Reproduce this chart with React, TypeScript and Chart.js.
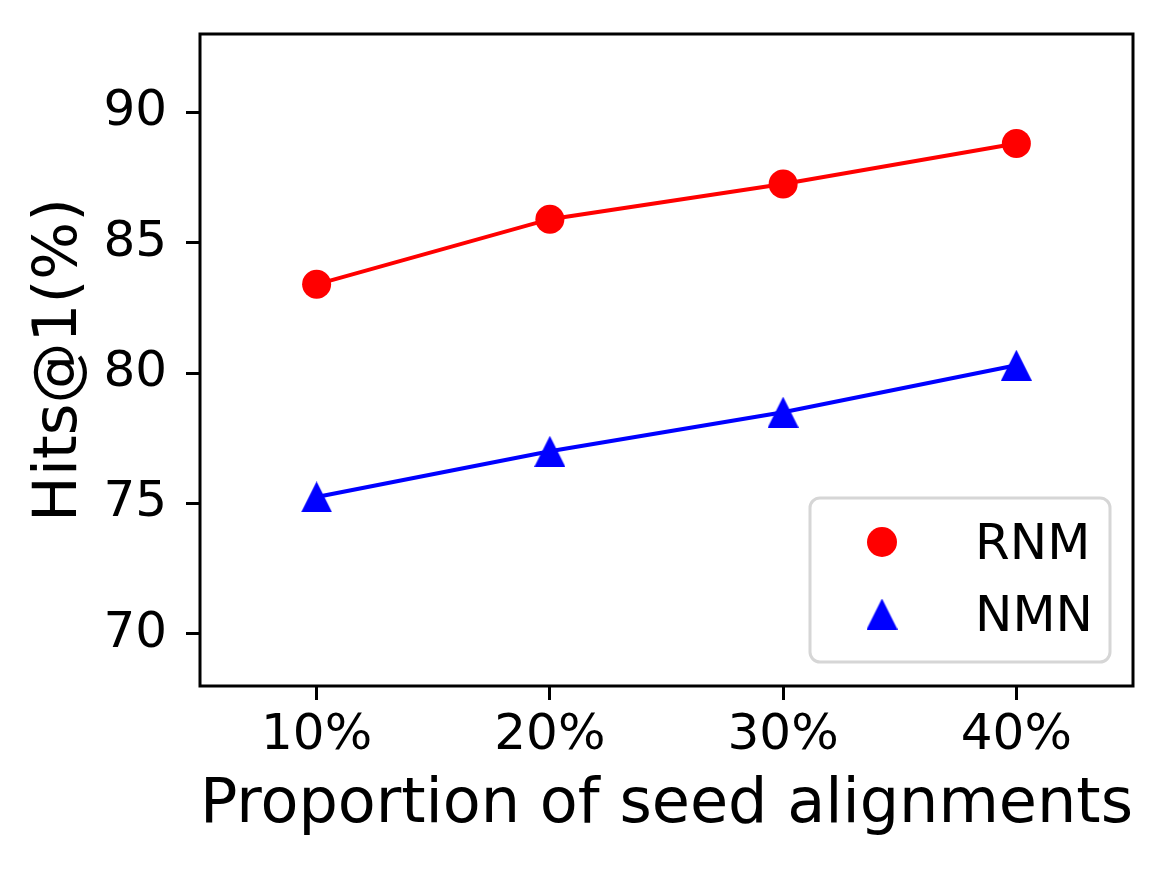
import { useEffect, useRef } from 'react';
import { Chart, ChartConfiguration, Plugin, registerables } from 'chart.js';

Chart.register(...registerables);

// values
const proportions = [10, 20, 30, 40];
const rnmHits = [83.4, 85.9, 87.25, 88.8];
const nmnHits = [75.25, 77.0, 78.5, 80.3];
const yTicks = [70, 75, 80, 85, 90];
const seriesNames = ['RNM', 'NMN'];

const FONT = "'DejaVu Sans', 'Liberation Sans', sans-serif";

// matplotlib-like '^' marker (width == height)
function makeTriangle(size: number, color: string) {
  const c = document.createElement('canvas');
  c.width = size;
  c.height = size;
  const g = c.getContext('2d');
  if (g) {
    g.fillStyle = color;
    g.beginPath();
    g.moveTo(size / 2, 0);
    g.lineTo(size, size);
    g.lineTo(0, size);
    g.closePath();
    g.fill();
  }
  return c;
}

const frameAndLegend: Plugin = {
  id: 'frameAndLegend',
  afterDraw(chart) {
    const { ctx, chartArea } = chart;
    const { left, right, top, bottom } = chartArea;
    ctx.save();

    // axes box
    ctx.strokeStyle = '#000';
    ctx.lineWidth = 3;
    ctx.strokeRect(left, top, right - left, bottom - top);

    // legend (markers only), lower right
    const w = 300;
    const h = 164;
    const x0 = right - 23 - w;
    const y0 = bottom - 24 - h;
    ctx.beginPath();
    ctx.roundRect(x0, y0, w, h, 10);
    ctx.fillStyle = 'rgba(255,255,255,0.8)';
    ctx.fill();
    ctx.strokeStyle = '#d6d6d6';
    ctx.lineWidth = 3;
    ctx.stroke();

    ctx.font = `50px ${FONT}`;
    ctx.textAlign = 'left';
    ctx.textBaseline = 'alphabetic';
    chart.data.datasets.forEach((ds: any, i: number) => {
      const cy = y0 + 44 + i * 72;
      const mx = x0 + 72;
      if (ds.pointStyle instanceof HTMLCanvasElement) {
        const img = ds.pointStyle as HTMLCanvasElement;
        ctx.drawImage(img, mx - img.width / 2, cy - img.height / 2);
      } else {
        ctx.beginPath();
        ctx.arc(mx, cy, 15, 0, Math.PI * 2);
        ctx.fillStyle = ds.pointBackgroundColor;
        ctx.fill();
      }
      ctx.fillStyle = '#000';
      ctx.fillText(String(ds.label), x0 + 165, cy + 17);
    });
    ctx.restore();
  },
};

export default function App() {
  const chartRef = useRef<HTMLCanvasElement>(null);
  const chartInstance = useRef<Chart | null>(null);

  useEffect(() => {
    if (!chartRef.current) return;
    if (chartInstance.current) {
      chartInstance.current.destroy();
    }
    const ctx = chartRef.current.getContext('2d');
    if (!ctx) return;

    const triangle = makeTriangle(31, '#0000ff');

    const config: ChartConfiguration<'line'> = {
      type: 'line',
      data: {
        datasets: [
          {
            label: seriesNames[0],
            data: proportions.map((p, i) => ({ x: p, y: rnmHits[i] })),
            borderColor: '#ff0000',
            borderWidth: 4,
            pointStyle: 'circle',
            pointRadius: 14.5,
            pointBorderWidth: 0,
            pointBackgroundColor: '#ff0000',
            tension: 0,
          },
          {
            label: seriesNames[1],
            data: proportions.map((p, i) => ({ x: p, y: nmnHits[i] })),
            borderColor: '#0000ff',
            borderWidth: 4,
            pointStyle: triangle,
            pointRadius: 15,
            pointBorderWidth: 0,
            pointBackgroundColor: '#0000ff',
            tension: 0,
          },
        ],
      },
      options: {
        responsive: false,
        animation: false,
        layout: { padding: { top: 34, right: 34, left: 0, bottom: 0 } },
        plugins: {
          legend: { display: false },
          tooltip: { enabled: false },
        },
        scales: {
          x: {
            type: 'linear',
            min: 5,
            max: 45,
            afterBuildTicks: (axis) => {
              axis.ticks = proportions.map((v) => ({ value: v }));
            },
            afterFit: (axis: any) => {
              axis.height = 184;
              axis.paddingLeft = 0;
              axis.paddingRight = 0;
            },
            border: { display: false },
            grid: {
              drawOnChartArea: false,
              drawTicks: true,
              tickLength: 14,
              tickWidth: 3,
              tickColor: '#000',
            },
            ticks: {
              color: '#000',
              padding: 11,
              font: { family: FONT, size: 50, lineHeight: 1 },
              callback: (v) => `${v}%`,
            },
            title: {
              display: true,
              text: 'Proportion of seed alignments',
              color: '#000',
              font: { family: FONT, size: 63, lineHeight: 1 },
              padding: { top: 0, bottom: 33 },
            },
          },
          y: {
            type: 'linear',
            min: 68,
            max: 93,
            afterBuildTicks: (axis) => {
              axis.ticks = yTicks.map((v) => ({ value: v }));
            },
            afterFit: (axis: any) => {
              axis.width = 200;
              axis.paddingTop = 0;
              axis.paddingBottom = 0;
            },
            border: { display: false },
            grid: {
              drawOnChartArea: false,
              drawTicks: true,
              tickLength: 14,
              tickWidth: 3,
              tickColor: '#000',
            },
            ticks: {
              color: '#000',
              padding: 19,
              font: { family: FONT, size: 50, lineHeight: 1 },
            },
            title: {
              display: true,
              text: 'Hits@1(%)',
              color: '#000',
              font: { family: FONT, size: 61, lineHeight: 1 },
              padding: { top: 30, bottom: 0 },
            },
          },
        },
      },
      plugins: [frameAndLegend],
    };

    chartInstance.current = new Chart(ctx, config);

    return () => {
      if (chartInstance.current) {
        chartInstance.current.destroy();
        chartInstance.current = null;
      }
    };
  }, []);

  return (
    <div style={{ position: 'absolute', left: 0, top: 0, width: 1167, height: 870, background: '#fff' }}>
      <canvas ref={chartRef} width={1167} height={870} style={{ display: 'block' }}></canvas>
    </div>
  );
}
